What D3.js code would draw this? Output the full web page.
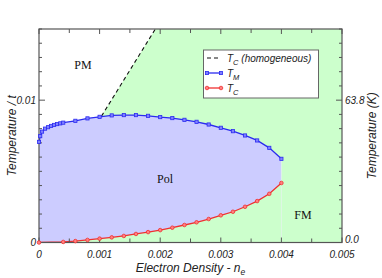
<!DOCTYPE html>
<html lang="en">
<head>
    <meta charset="UTF-8">
    <title>Phase Diagram</title>
    <style>
        body { margin: 0; background: #fff; }
        svg text { font-family: "Liberation Sans", Arial, sans-serif; }
        .tick-label { font-size: 10px; font-style: italic; fill: #222; }
        .axis-title { font-size: 12px; font-style: italic; fill: #222; }
        .phase { font-family: "Liberation Serif", "Times New Roman", serif !important; font-size: 12px; fill: #111; }
        .legend text { font-size: 10px; font-style: italic; fill: #222; }
    </style>
</head>
<body>
    <div id="chart"></div>

    <script src="https://d3js.org/d3.v7.min.js"></script>
    <script>
        // T_M (upper boundary of polaron region)
        var tmDensity = [0, 0.00002, 0.00005, 0.0001, 0.00015, 0.0002, 0.00025, 0.0003, 0.00035, 0.0004,
                         0.0006, 0.0008, 0.001, 0.0012, 0.0014, 0.0016, 0.0018, 0.002, 0.0022, 0.0024,
                         0.0026, 0.0028, 0.003, 0.0032, 0.0034, 0.0036, 0.0038, 0.004];
        var tmTemp = [0.00707, 0.00747, 0.00779, 0.0080, 0.0081, 0.00819, 0.00826, 0.00832, 0.00837, 0.00842,
                      0.00855, 0.00872, 0.00883, 0.00893, 0.00895, 0.00895, 0.0089, 0.00881, 0.00874, 0.00862,
                      0.00848, 0.00829, 0.00806, 0.00782, 0.00752, 0.00717, 0.00665, 0.00588];

        // T_C (lower boundary)
        var tcDensity = [0, 0.0004, 0.0006, 0.0008, 0.001, 0.0012, 0.0014, 0.0016, 0.0018, 0.002,
                         0.0022, 0.0024, 0.0026, 0.0028, 0.003, 0.0032, 0.0034, 0.0036, 0.0038, 0.004];
        var tcTemp = [0, 0.00004, 0.0001, 0.00018, 0.00027, 0.00036, 0.00046, 0.0006, 0.00073, 0.00087,
                      0.00104, 0.00123, 0.00142, 0.00165, 0.00191, 0.00216, 0.00251, 0.00291, 0.00342, 0.00418];

        // T_C of the homogeneous system
        var tcHomDensity = [0.00103, 0.00192];
        var tcHomTemp = [0.00887, 0.0150];

        var xTicks = [0, 0.001, 0.002, 0.003, 0.004, 0.005];
        var yTicks = [0, 0.01];
        var yKTicks = [0, 63.8];

        var W = 382, H = 278;
        var pL = 39, pR = 342, pT = 29, pB = 242.5;

        var svg = d3.select("#chart").append("svg")
            .attr("width", W)
            .attr("height", H);

        var x = d3.scaleLinear().domain([0, 0.005]).range([pL, pR]);
        var y = d3.scaleLinear().domain([0, 0.015]).range([pB, pT]);
        var yK = d3.scaleLinear().domain([0, 6380 * 0.015]).range([pB, pT]);

        var tm = tmDensity.map(function(d, i) { return [d, tmTemp[i]]; });
        var tc = tcDensity.map(function(d, i) { return [d, tcTemp[i]]; });
        var hom = tcHomDensity.map(function(d, i) { return [d, tcHomTemp[i]]; });

        var line = d3.line()
            .x(function(d) { return x(d[0]); })
            .y(function(d) { return y(d[1]); });

        svg.append("clipPath").attr("id", "plot-clip")
            .append("rect")
            .attr("x", pL).attr("y", pT)
            .attr("width", pR - pL).attr("height", pB - pT);

        var plot = svg.append("g").attr("clip-path", "url(#plot-clip)");

        // FM background
        plot.append("rect")
            .attr("x", pL).attr("y", pT)
            .attr("width", pR - pL).attr("height", pB - pT)
            .attr("fill", "#ccffcc");

        // PM region: left of homogeneous T_C, above T_M
        var pm = [[0, 0.015]].concat(tm.filter(function(d) { return d[0] <= hom[0][0]; }))
            .concat(hom);
        plot.append("path")
            .attr("d", line(pm) + "Z")
            .attr("fill", "#ffffff");

        // polaron region
        var pol = tm.concat(tc.slice().reverse());
        plot.append("path")
            .attr("d", line(pol) + "Z")
            .attr("fill", "#ccccff");

        plot.append("line")
            .attr("x1", x(0.004)).attr("x2", x(0.004))
            .attr("y1", y(tm[tm.length - 1][1])).attr("y2", pB)
            .attr("stroke", "#e4f4ec").attr("stroke-width", 0.8);

        plot.append("path")
            .attr("d", line(hom))
            .attr("fill", "none")
            .attr("stroke", "#111")
            .attr("stroke-width", 1.1)
            .attr("stroke-dasharray", "4,3");

        // axes frame and ticks
        var axisColor = "#555";
        svg.append("rect")
            .attr("x", pL).attr("y", pT)
            .attr("width", pR - pL).attr("height", pB - pT)
            .attr("fill", "none")
            .attr("stroke", axisColor)
            .attr("stroke-width", 1.2);

        var ticks = svg.append("g").attr("stroke", axisColor).attr("stroke-width", 1);
        d3.range(0, 11).forEach(function(i) {
            var xv = x(i * 0.0005), len = i % 2 === 0 ? 5 : 4;
            ticks.append("line").attr("x1", xv).attr("x2", xv).attr("y1", pB).attr("y2", pB - len);
            ticks.append("line").attr("x1", xv).attr("x2", xv).attr("y1", pT).attr("y2", pT + len);
        });
        d3.range(0, 16).forEach(function(i) {
            var yv = y(i * 0.001), len = i % 10 === 0 ? 6 : 3;
            ticks.append("line").attr("x1", pL).attr("x2", pL + len).attr("y1", yv).attr("y2", yv);
            ticks.append("line").attr("x1", pR).attr("x2", pR - len).attr("y1", yv).attr("y2", yv);
        });

        svg.selectAll(".xlab").data(xTicks).enter().append("text")
            .attr("class", "tick-label")
            .attr("x", function(d) { return x(d); })
            .attr("y", pB + 15)
            .attr("text-anchor", "middle")
            .text(function(d) { return d === 0 ? "0" : d3.format(".3f")(d); });

        svg.selectAll(".ylab").data(yTicks).enter().append("text")
            .attr("class", "tick-label")
            .attr("x", pL - 3)
            .attr("y", function(d) { return y(d) + 3.5; })
            .attr("text-anchor", "end")
            .text(function(d) { return d === 0 ? "0" : d3.format(".2f")(d); });

        svg.selectAll(".yklab").data(yKTicks).enter().append("text")
            .attr("class", "tick-label")
            .attr("x", pR + 3)
            .attr("y", function(d) { return yK(d) + 3.5 - (d === 0 ? 3 : 0); })
            .attr("text-anchor", "start")
            .text(function(d) { return d3.format(".1f")(d); });

        // axis titles
        var xt = svg.append("text").attr("class", "axis-title")
            .attr("x", (pL + pR) / 2).attr("y", 272)
            .attr("text-anchor", "middle");
        xt.append("tspan").text("Electron Density - n");
        xt.append("tspan").attr("dy", 3).attr("font-size", "8.5px").text("e");

        svg.append("text").attr("class", "axis-title")
            .attr("transform", "translate(16," + ((pT + pB) / 2) + ") rotate(-90)")
            .attr("text-anchor", "middle")
            .text("Temperature / t");

        svg.append("text").attr("class", "axis-title")
            .attr("transform", "translate(376," + ((pT + pB) / 2) + ") rotate(-90)")
            .attr("text-anchor", "middle")
            .text("Temperature (K)");

        // phase labels
        svg.append("text").attr("class", "phase").attr("x", 83).attr("y", 69)
            .attr("text-anchor", "middle").text("PM");
        svg.append("text").attr("class", "phase").attr("x", 165).attr("y", 183)
            .attr("text-anchor", "middle").text("Pol");
        svg.append("text").attr("class", "phase").attr("x", 303).attr("y", 219)
            .attr("text-anchor", "middle").text("FM");

        // data lines and markers
        plot.append("path").attr("d", line(tm))
            .attr("fill", "none").attr("stroke", "#2b2bf0").attr("stroke-width", 1.3);
        plot.append("path").attr("d", line(tc))
            .attr("fill", "none").attr("stroke", "#f03030").attr("stroke-width", 1.3);

        svg.selectAll(".tm").data(tm).enter().append("rect")
            .attr("x", function(d) { return x(d[0]) - 1.6; })
            .attr("y", function(d) { return y(d[1]) - 1.6; })
            .attr("width", 3.2).attr("height", 3.2)
            .attr("fill", "#8080ff").attr("stroke", "#2b2bf0").attr("stroke-width", 0.8);

        svg.selectAll(".tc").data(tc).enter().append("circle")
            .attr("cx", function(d) { return x(d[0]); })
            .attr("cy", function(d) { return y(d[1]); })
            .attr("r", 1.8)
            .attr("fill", "#ff8080").attr("stroke", "#f03030").attr("stroke-width", 0.8);

        // legend
        var lg = svg.append("g").attr("class", "legend");
        lg.append("rect")
            .attr("x", 203.5).attr("y", 50)
            .attr("width", 115).attr("height", 48)
            .attr("fill", "#fff").attr("stroke", "#666").attr("stroke-width", 1);

        var rows = [
            {y: 58, kind: "hom", sub: "C", rest: " (homogeneous)"},
            {y: 73, kind: "tm", sub: "M", rest: ""},
            {y: 88, kind: "tc", sub: "C", rest: ""}
        ];
        rows.forEach(function(r) {
            if (r.kind === "hom") {
                lg.append("line").attr("x1", 207).attr("x2", 221).attr("y1", r.y).attr("y2", r.y)
                    .attr("stroke", "#111").attr("stroke-width", 1.1).attr("stroke-dasharray", "4,3");
            } else {
                var c = r.kind === "tm" ? "#2b2bf0" : "#f03030";
                var f = r.kind === "tm" ? "#8080ff" : "#ff8080";
                lg.append("line").attr("x1", 207).attr("x2", 221).attr("y1", r.y).attr("y2", r.y)
                    .attr("stroke", c).attr("stroke-width", 1.3);
                [207, 221].forEach(function(px) {
                    if (r.kind === "tm") {
                        lg.append("rect").attr("x", px - 1.6).attr("y", r.y - 1.6)
                            .attr("width", 3.2).attr("height", 3.2)
                            .attr("fill", f).attr("stroke", c).attr("stroke-width", 0.8);
                    } else {
                        lg.append("circle").attr("cx", px).attr("cy", r.y).attr("r", 1.8)
                            .attr("fill", f).attr("stroke", c).attr("stroke-width", 0.8);
                    }
                });
            }
            var t = lg.append("text").attr("x", 227).attr("y", r.y + 3.5);
            t.append("tspan").text("T");
            t.append("tspan").attr("dy", 3).attr("font-size", "7.5px").text(r.sub);
            if (r.rest) t.append("tspan").attr("dy", -3).text(r.rest);
        });
    </script>
</body>
</html>
